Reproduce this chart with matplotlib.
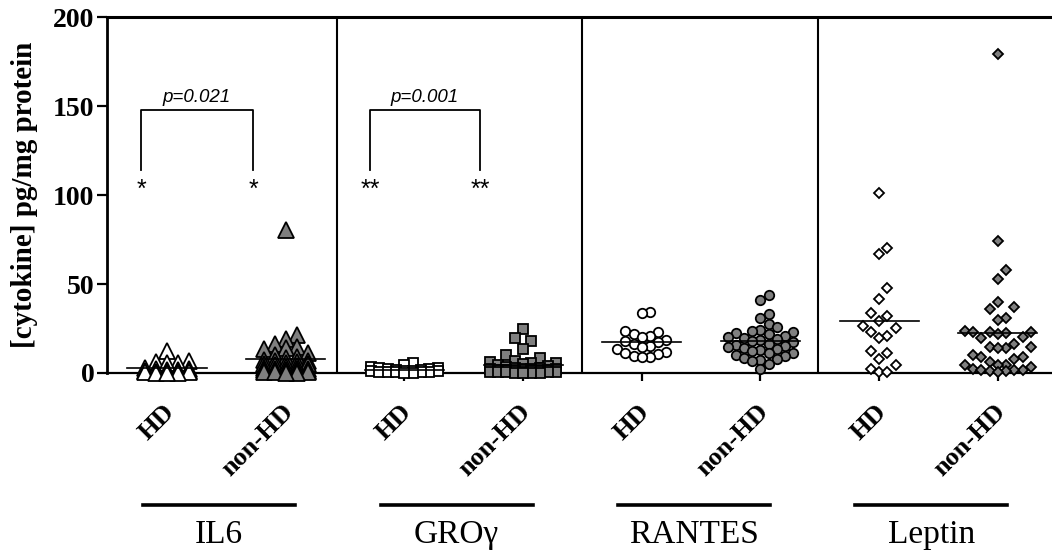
import numpy as np
import matplotlib
matplotlib.use('Agg')
import matplotlib.pyplot as plt
from matplotlib.lines import Line2D
import matplotlib.transforms as mtransforms

# Datos (pg/mg de proteína)
grupos = ['IL6', 'GRO\u03b3', 'RANTES', 'Leptin']
condiciones = ['HD', 'non-HD']

il6_hd = [12.5, 7.0, 6.3, 5.8, 5.4, 3.0, 2.5, 2.0, 1.8, 1.5, 1.2, 1.0, 0.8,
          0.6, 0.5, 0.4, 0.3, 0.2, 0.1, 0.0]
il6_non = [80.3, 21.3, 18.9, 16.1, 14.5, 13.8, 13.3, 11.5, 10.1, 9.2, 8.5,
           7.3, 7.0, 6.5, 6.0, 5.5, 5.0, 4.8, 4.5, 4.0, 3.5, 3.0, 2.5, 2.2,
           2.0, 1.8, 1.5, 1.3, 1.1, 1.0, 0.8, 0.6, 0.5, 0.3, 0.2, 0.0]
gro_hd = [5.4, 4.5, 3.5, 3.0, 2.6, 2.4, 2.0, 1.8, 1.5, 1.3, 1.2, 1.0, 0.9,
          0.8, 0.7, 0.5, 0.4, 0.3, 0.2, 0.1]
gro_non = [24.7, 19.8, 18.2, 13.3, 10.1, 8.2, 6.7, 6.0, 5.8, 5.5, 5.0, 4.5,
           4.0, 3.5, 3.0, 3.0, 2.5, 2.5, 2.0, 2.0, 1.8, 1.5, 1.5, 1.2, 1.0,
           1.0, 0.8, 0.8, 0.6, 0.5, 0.4, 0.3, 0.2, 0.2, 0.1, 0.0]
rantes_hd = [34.3, 33.5, 23.8, 22.8, 21.7, 21.0, 20.0, 18.5, 18.0, 17.5,
             16.3, 15.3, 14.5, 13.5, 12.0, 11.4, 10.5, 9.7, 9.0, 8.8]
rantes_non = [43.8, 41.0, 33.1, 30.7, 27.3, 26.0, 24.0, 23.5, 23.0, 22.5,
              22.0, 21.0, 20.0, 19.5, 19.0, 18.5, 18.0, 17.5, 16.5, 15.5,
              15.0, 14.5, 14.0, 13.5, 13.0, 12.5, 11.5, 11.0, 10.0, 9.5,
              8.5, 8.0, 7.5, 7.0, 5.0, 2.1]
leptin_hd = [101.3, 70.4, 67.0, 47.6, 41.8, 33.9, 32.0, 29.2, 26.6, 25.5,
             23.2, 21.0, 19.5, 12.2, 11.4, 8.0, 4.7, 2.4, 0.7, 0.7]
leptin_non = [179.4, 74.2, 57.7, 52.6, 40.0, 37.0, 36.0, 31.0, 30.0, 23.5,
              23.2, 23.0, 22.8, 22.5, 21.7, 20.4, 19.8, 16.5, 14.8, 14.8,
              14.2, 13.8, 10.1, 9.2, 9.2, 8.0, 6.0, 4.5, 4.5, 4.5, 3.5, 2.0,
              1.7, 1.7, 1.5, 1.2, 1.0, 0.8]

series = [il6_hd, il6_non, gro_hd, gro_non,
          rantes_hd, rantes_non, leptin_hd, leptin_non]

# Anotaciones de significancia
p_textos = ['p=0.021', 'p=0.001']
estrellas = ['*', '**']

# Estilo
marcadores = ['^', 's', 'o', 'D']
tam_marc = [11.0, 6.8, 6.8, 5.4]          # puntos
paso_px = [11.0, 8.3, 8.2, 8.3]           # separación horizontal del enjambre
alto_px = [9.0, 12.0, 9.0, 13.0]          # ventana vertical de choque
max_px = [24, 36, 34, 34]
gris = '#7f7f7f'
serif = 'Liberation Serif'
sans = 'Liberation Sans'

fig = plt.figure(figsize=(10.52, 5.6), dpi=100)
ax = fig.add_axes([107/1052, 187/560, 945/1052, 356/560])
ax.set_xlim(-0.5055, 7.456)
ax.set_ylim(0, 200)


def enjambre(valores, x0, paso, alto, max_off):
    """Desplazamientos horizontales tipo beeswarm (en píxeles) para
    ``valores`` centrados en ``x0``; devuelve las x en datos."""
    vals = np.asarray(valores, dtype=float)
    pix = ax.transData.transform(np.column_stack([np.full(len(vals), x0), vals]))
    ys = pix[:, 1]
    cands = [0.0]
    for k in range(1, int(max_off // paso) + 1):
        cands += [k * paso, -k * paso]
    colocados = []
    offs = np.zeros(len(vals))
    for i in np.argsort(ys):
        mejor, mejor_d = 0.0, -1
        for c in cands:
            if colocados:
                d = min(np.hypot((c - px) / paso, (ys[i] - py) / alto)
                        for px, py in colocados)
            else:
                d = np.inf
            if d >= 0.99:
                mejor = c
                break
            if d > mejor_d:
                mejor, mejor_d = c, d
        colocados.append((mejor, ys[i]))
        offs[i] = mejor
    inv = ax.transData.inverted()
    return inv.transform(np.column_stack([pix[:, 0] + offs, ys]))[:, 0]


for i, vals in enumerate(series):
    g = i // 2
    relleno = 'white' if i % 2 == 0 else gris
    xs = enjambre(vals, i, paso_px[g], alto_px[g], max_px[g])
    ax.plot(xs, vals, linestyle='none', marker=marcadores[g],
            markersize=tam_marc[g], markerfacecolor=relleno,
            markeredgecolor='black', markeredgewidth=1.3,
            clip_on=False, zorder=3)
    media = np.mean(vals)
    ax.plot([i - 0.333, i + 0.333], [media, media], color='black',
            lw=1.2, zorder=4, clip_on=False)

# Separadores entre citoquinas
for xs in [1.432, 3.496, 5.484]:
    ax.axvline(xs, color='black', lw=1.5, zorder=1)

# Corchetes con p-valores
corchetes = [(-0.219, 0.725), (1.71, 2.637)]
for (xa, xb), ptxt, est in zip(corchetes, p_textos, estrellas):
    ax.plot([xa, xa, xb, xb], [114, 148, 148, 114], color='black', lw=1.3)
    ax.text((xa + xb) / 2, 150, ptxt, ha='center', va='bottom',
            fontsize=13.5, style='italic', family=sans)
    for xe in (xa, xb):
        ax.text(xe, 103, est, ha='center', va='center', fontsize=18,
                family=sans)

# Ejes
ax.spines['right'].set_visible(False)
ax.spines['top'].set_linewidth(2.2)
ax.spines['left'].set_linewidth(2.0)
ax.spines['bottom'].set_linewidth(1.6)
ax.set_yticks([0, 50, 100, 150, 200])
ax.set_yticklabels(['0', '50', '100', '150', '200'], fontsize=20,
                   fontweight='bold', family=serif)
ax.tick_params(axis='y', direction='out', length=7, width=1.6, pad=2)
ax.set_xticks(range(8))
ax.set_xticklabels(condiciones * 4, rotation=45, ha='right', va='center',
                   rotation_mode='anchor', fontsize=19, fontweight='bold',
                   family=serif)
ax.tick_params(axis='x', direction='out', length=6, width=1.6, pad=20)
desplaza = mtransforms.ScaledTranslation(4/100, 1/100, fig.dpi_scale_trans)
for lab in ax.get_xticklabels():
    lab.set_transform(lab.get_transform() + desplaza)

fig.text(25/1052, 0.652, '[cytokine] pg/mg protein', rotation=90,
         ha='center', va='center', fontsize=21, fontweight='bold',
         family=serif)

# Etiquetas de grupo con subrayado
trans = mtransforms.blended_transform_factory(ax.transData, fig.transFigure)
for g, nombre in enumerate(grupos):
    x1, x2 = 2 * g - 0.2, 2 * g + 1 + 0.08
    fig.add_artist(Line2D([x1, x2], [0.098, 0.098], color='black', lw=2.6,
                          transform=trans, clip_on=False))
    ax.text((x1 + x2) / 2, 0.045, nombre, transform=trans, ha='center',
            va='center', fontsize=24, family=serif, clip_on=False)

fig.savefig('out.png', dpi=100)
